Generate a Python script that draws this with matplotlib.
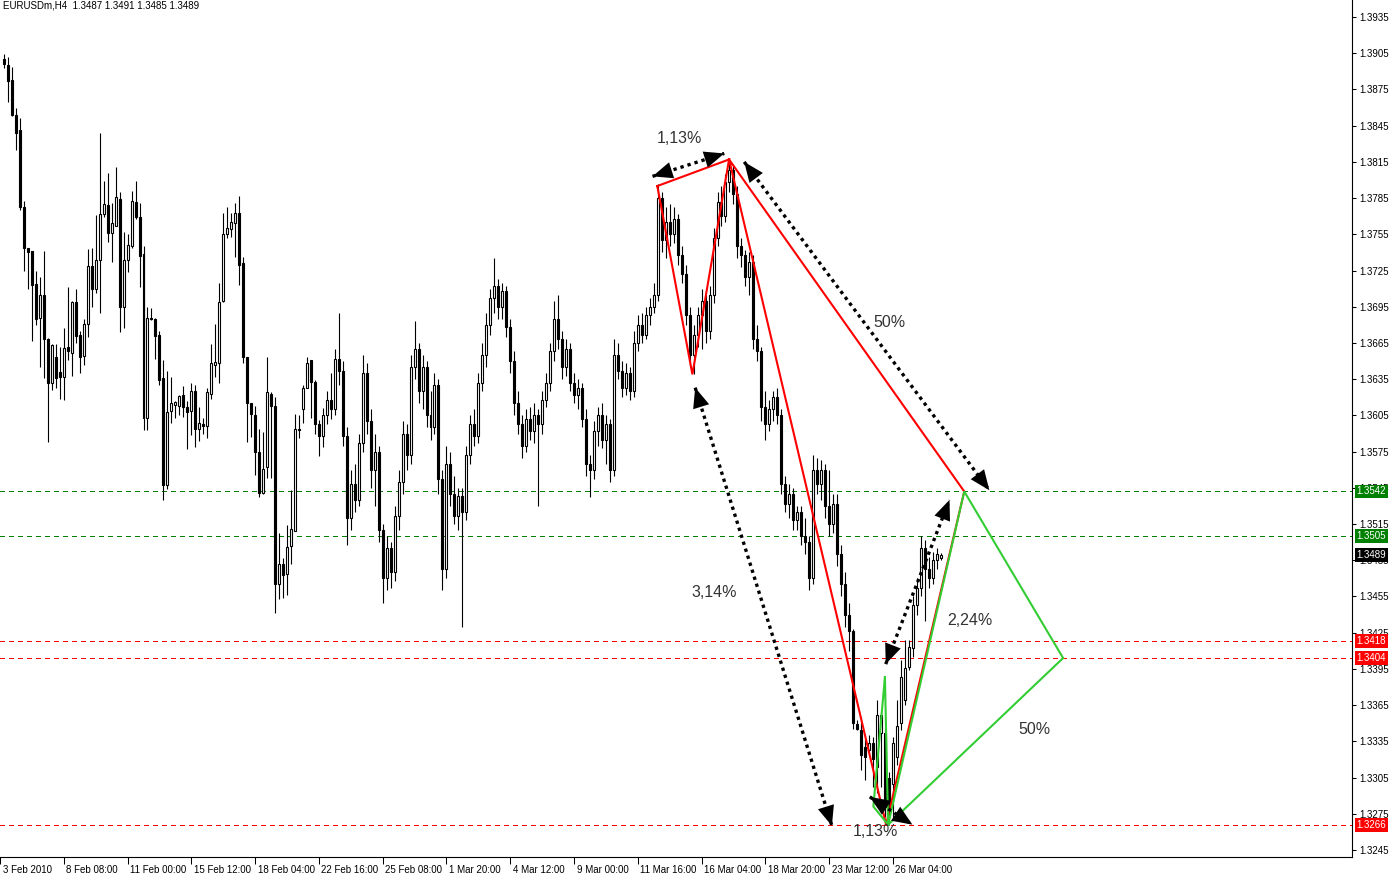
import matplotlib
matplotlib.use("Agg")
import matplotlib.pyplot as plt
import matplotlib.transforms as mtransforms
import numpy as np

plt.rcParams["font.family"] = ["Liberation Sans", "DejaVu Sans"]

# H4 candles, bar index 0..235
opens = [
    1.3900, 1.3895, 1.3883, 1.3854, 1.3841, 1.3778, 1.3744, 1.3741, 1.3714, 1.3686,
    1.3705, 1.3668, 1.3632, 1.3653, 1.3641, 1.3637, 1.3662, 1.3657, 1.3699, 1.3672,
    1.3654, 1.3681, 1.3729, 1.3710, 1.3734, 1.3772, 1.3779, 1.3756, 1.3762, 1.3784,
    1.3695, 1.3734, 1.3745, 1.3782, 1.3769, 1.3739, 1.3603, 1.3686, 1.3685, 1.3672,
    1.3636, 1.3547, 1.3609, 1.3614, 1.3613, 1.3622, 1.3612, 1.3609, 1.3625, 1.3594,
    1.3598, 1.3596, 1.3623, 1.3647, 1.3648, 1.3700, 1.3755, 1.3759, 1.3764, 1.3773,
    1.3731, 1.3653, 1.3615, 1.3605, 1.3575, 1.3541, 1.3562, 1.3623, 1.3613, 1.3465,
    1.3482, 1.3474, 1.3497, 1.3509, 1.3594, 1.3610, 1.3628, 1.3651, 1.3633, 1.3598,
    1.3588, 1.3605, 1.3618, 1.3610, 1.3652, 1.3642, 1.3588, 1.3520, 1.3548, 1.3535,
    1.3582, 1.3640, 1.3600, 1.3560, 1.3575, 1.3510, 1.3470, 1.3495, 1.3475, 1.3522,
    1.3550, 1.3590, 1.3572, 1.3645, 1.3660, 1.3625, 1.3645, 1.3605, 1.3595, 1.3630,
    1.3552, 1.3478, 1.3565, 1.3540, 1.3522, 1.3538, 1.3525, 1.3572, 1.3598, 1.3588,
    1.3632, 1.3655, 1.3680, 1.3702, 1.3712, 1.3695, 1.3708, 1.3678, 1.3650, 1.3615,
    1.3598, 1.3580, 1.3602, 1.3592, 1.3605, 1.3598, 1.3618, 1.3632, 1.3658, 1.3685,
    1.3668, 1.3645, 1.3660, 1.3632, 1.3622, 1.3628, 1.3602, 1.3565, 1.3560, 1.3592,
    1.3605, 1.3585, 1.3598, 1.3560, 1.3655, 1.3642, 1.3628, 1.3640, 1.3625, 1.3665,
    1.3680, 1.3672, 1.3688, 1.3695, 1.3705, 1.3785, 1.3750, 1.3765, 1.3755, 1.3768,
    1.3738, 1.3722, 1.3688, 1.3655, 1.3672, 1.3688, 1.3700, 1.3675, 1.3705, 1.3752,
    1.3782, 1.3770, 1.3798, 1.3808, 1.3788, 1.3745, 1.3738, 1.3720, 1.3732, 1.3668,
    1.3658, 1.3612, 1.3598, 1.3610, 1.3620, 1.3605, 1.3548, 1.3532, 1.3540, 1.3518,
    1.3525, 1.3505, 1.3500, 1.3470, 1.3560, 1.3548, 1.3560, 1.3530, 1.3515, 1.3532,
    1.3490, 1.3465, 1.3440, 1.3426, 1.3349, 1.3344, 1.3330, 1.3328, 1.3334, 1.3314,
    1.3342, 1.3342, 1.3305, 1.3300, 1.3322, 1.3350, 1.3369, 1.3397, 1.3412, 1.3448,
    1.3462, 1.3495, 1.3478, 1.3470, 1.3485, 1.3487,
]
highs = [
    1.3904, 1.3902, 1.3894, 1.3860, 1.3851, 1.3783, 1.3744, 1.3741, 1.3725, 1.3720,
    1.3741, 1.3669, 1.3664, 1.3664, 1.3662, 1.3677, 1.3711, 1.3700, 1.3710, 1.3675,
    1.3685, 1.3743, 1.3744, 1.3771, 1.3839, 1.3799, 1.3806, 1.3781, 1.3811, 1.3790,
    1.3757, 1.3755, 1.3791, 1.3799, 1.3781, 1.3745, 1.3695, 1.3694, 1.3686, 1.3675,
    1.3651, 1.3642, 1.3637, 1.3617, 1.3622, 1.3629, 1.3617, 1.3632, 1.3630, 1.3612,
    1.3603, 1.3628, 1.3664, 1.3681, 1.3715, 1.3773, 1.3778, 1.3773, 1.3781, 1.3787,
    1.3736, 1.3653, 1.3615, 1.3613, 1.3594, 1.3591, 1.3653, 1.3624, 1.3620, 1.3508,
    1.3487, 1.3514, 1.3543, 1.3606, 1.3605, 1.3630, 1.3653, 1.3651, 1.3634, 1.3601,
    1.3611, 1.3625, 1.3640, 1.3660, 1.3690, 1.3650, 1.3595, 1.3560, 1.3565, 1.3590,
    1.3655, 1.3648, 1.3610, 1.3590, 1.3580, 1.3515, 1.3505, 1.3500, 1.3530, 1.3560,
    1.3600, 1.3598, 1.3655, 1.3683, 1.3665, 1.3655, 1.3650, 1.3625, 1.3640, 1.3635,
    1.3560, 1.3580, 1.3575, 1.3555, 1.3545, 1.3545, 1.3580, 1.3605, 1.3610, 1.3640,
    1.3665, 1.3690, 1.3710, 1.3735, 1.3718, 1.3715, 1.3712, 1.3685, 1.3658, 1.3625,
    1.3605, 1.3610, 1.3612, 1.3615, 1.3610, 1.3625, 1.3640, 1.3665, 1.3700, 1.3705,
    1.3675, 1.3668, 1.3665, 1.3640, 1.3635, 1.3632, 1.3610, 1.3572, 1.3600, 1.3612,
    1.3615, 1.3605, 1.3602, 1.3668, 1.3665, 1.3650, 1.3648, 1.3645, 1.3675, 1.3688,
    1.3690, 1.3695, 1.3702, 1.3715, 1.3797, 1.3790, 1.3778, 1.3780, 1.3778, 1.3772,
    1.3745, 1.3730, 1.3695, 1.3680, 1.3695, 1.3710, 1.3705, 1.3712, 1.3760, 1.3790,
    1.3795, 1.3805, 1.3817, 1.3812, 1.3795, 1.3752, 1.3742, 1.3740, 1.3738, 1.3680,
    1.3662, 1.3625, 1.3618, 1.3625, 1.3628, 1.3610, 1.3555, 1.3548, 1.3545, 1.3530,
    1.3530, 1.3520, 1.3505, 1.3572, 1.3570, 1.3568, 1.3565, 1.3560, 1.3540, 1.3540,
    1.3498, 1.3475, 1.3450, 1.3428, 1.3353, 1.3355, 1.3339, 1.3340, 1.3339, 1.3369,
    1.3359, 1.3346, 1.3310, 1.3339, 1.3369, 1.3402, 1.3419, 1.3419, 1.3455, 1.3470,
    1.3505, 1.3502, 1.3488, 1.3492, 1.3495, 1.3491,
]
lows = [
    1.3893, 1.3865, 1.3853, 1.3825, 1.3775, 1.3725, 1.3710, 1.3667, 1.3680, 1.3645,
    1.3636, 1.3583, 1.3626, 1.3628, 1.3619, 1.3618, 1.3651, 1.3638, 1.3665, 1.3640,
    1.3647, 1.3670, 1.3695, 1.3706, 1.3690, 1.3769, 1.3749, 1.3732, 1.3762, 1.3674,
    1.3677, 1.3724, 1.3744, 1.3768, 1.3711, 1.3593, 1.3593, 1.3684, 1.3652, 1.3630,
    1.3535, 1.3544, 1.3599, 1.3603, 1.3605, 1.3604, 1.3577, 1.3589, 1.3579, 1.3584,
    1.3590, 1.3586, 1.3619, 1.3637, 1.3632, 1.3699, 1.3752, 1.3753, 1.3736, 1.3713,
    1.3648, 1.3583, 1.3587, 1.3556, 1.3537, 1.3540, 1.3553, 1.3553, 1.3441, 1.3453,
    1.3454, 1.3456, 1.3482, 1.3509, 1.3586, 1.3599, 1.3628, 1.3603, 1.3590, 1.3571,
    1.3579, 1.3598, 1.3602, 1.3605, 1.3630, 1.3580, 1.3498, 1.3510, 1.3525, 1.3530,
    1.3575, 1.3590, 1.3545, 1.3530, 1.3500, 1.3450, 1.3460, 1.3462, 1.3468, 1.3510,
    1.3540, 1.3560, 1.3565, 1.3635, 1.3615, 1.3610, 1.3595, 1.3585, 1.3590, 1.3540,
    1.3460, 1.3470, 1.3530, 1.3515, 1.3510, 1.3430, 1.3518, 1.3565, 1.3580, 1.3582,
    1.3625, 1.3645, 1.3672, 1.3690, 1.3685, 1.3685, 1.3670, 1.3640, 1.3605, 1.3590,
    1.3570, 1.3575, 1.3585, 1.3582, 1.3530, 1.3590, 1.3612, 1.3625, 1.3650, 1.3660,
    1.3635, 1.3638, 1.3625, 1.3615, 1.3610, 1.3595, 1.3555, 1.3537, 1.3552, 1.3580,
    1.3578, 1.3565, 1.3550, 1.3555, 1.3635, 1.3620, 1.3622, 1.3618, 1.3620, 1.3658,
    1.3665, 1.3668, 1.3680, 1.3690, 1.3700, 1.3740, 1.3735, 1.3745, 1.3748, 1.3730,
    1.3715, 1.3680, 1.3645, 1.3639, 1.3662, 1.3660, 1.3665, 1.3668, 1.3698, 1.3745,
    1.3762, 1.3765, 1.3790, 1.3780, 1.3735, 1.3728, 1.3712, 1.3705, 1.3660, 1.3650,
    1.3600, 1.3585, 1.3592, 1.3600, 1.3598, 1.3540, 1.3525, 1.3520, 1.3510, 1.3510,
    1.3498, 1.3490, 1.3460, 1.3465, 1.3540, 1.3535, 1.3520, 1.3505, 1.3508, 1.3480,
    1.3455, 1.3430, 1.3410, 1.3345, 1.3344, 1.3311, 1.3303, 1.3325, 1.3297, 1.3292,
    1.3297, 1.3272, 1.3266, 1.3270, 1.3315, 1.3344, 1.3365, 1.3394, 1.3405, 1.3440,
    1.3455, 1.3435, 1.3462, 1.3465, 1.3478, 1.3485,
]
closes = [
    1.3896, 1.3882, 1.3854, 1.3839, 1.3778, 1.3744, 1.3740, 1.3713, 1.3685, 1.3705,
    1.3668, 1.3632, 1.3663, 1.3636, 1.3637, 1.3661, 1.3658, 1.3699, 1.3671, 1.3653,
    1.3681, 1.3729, 1.3710, 1.3734, 1.3772, 1.3780, 1.3756, 1.3764, 1.3786, 1.3695,
    1.3734, 1.3746, 1.3783, 1.3769, 1.3737, 1.3603, 1.3686, 1.3685, 1.3671, 1.3634,
    1.3547, 1.3608, 1.3615, 1.3616, 1.3621, 1.3612, 1.3608, 1.3625, 1.3594, 1.3599,
    1.3596, 1.3624, 1.3648, 1.3649, 1.3699, 1.3755, 1.3760, 1.3765, 1.3773, 1.3730,
    1.3653, 1.3615, 1.3606, 1.3575, 1.3541, 1.3561, 1.3624, 1.3613, 1.3465, 1.3482,
    1.3473, 1.3496, 1.3511, 1.3594, 1.3593, 1.3628, 1.3648, 1.3633, 1.3598, 1.3588,
    1.3605, 1.3618, 1.3610, 1.3652, 1.3642, 1.3588, 1.3520, 1.3548, 1.3535, 1.3582,
    1.3640, 1.3600, 1.3560, 1.3575, 1.3510, 1.3470, 1.3495, 1.3475, 1.3522, 1.3550,
    1.3590, 1.3572, 1.3645, 1.3660, 1.3625, 1.3645, 1.3605, 1.3595, 1.3630, 1.3552,
    1.3478, 1.3565, 1.3540, 1.3522, 1.3538, 1.3525, 1.3572, 1.3598, 1.3588, 1.3632,
    1.3655, 1.3680, 1.3702, 1.3712, 1.3695, 1.3708, 1.3678, 1.3650, 1.3615, 1.3598,
    1.3580, 1.3602, 1.3592, 1.3605, 1.3598, 1.3618, 1.3632, 1.3658, 1.3685, 1.3668,
    1.3645, 1.3660, 1.3632, 1.3622, 1.3628, 1.3602, 1.3565, 1.3560, 1.3592, 1.3605,
    1.3585, 1.3598, 1.3560, 1.3655, 1.3642, 1.3628, 1.3640, 1.3625, 1.3665, 1.3680,
    1.3672, 1.3688, 1.3695, 1.3705, 1.3785, 1.3750, 1.3765, 1.3755, 1.3768, 1.3738,
    1.3722, 1.3688, 1.3655, 1.3672, 1.3688, 1.3700, 1.3675, 1.3705, 1.3752, 1.3782,
    1.3770, 1.3798, 1.3808, 1.3788, 1.3745, 1.3738, 1.3720, 1.3732, 1.3668, 1.3658,
    1.3612, 1.3598, 1.3610, 1.3620, 1.3605, 1.3548, 1.3532, 1.3540, 1.3518, 1.3525,
    1.3505, 1.3500, 1.3470, 1.3560, 1.3548, 1.3560, 1.3530, 1.3515, 1.3532, 1.3490,
    1.3465, 1.3440, 1.3426, 1.3350, 1.3345, 1.3324, 1.3322, 1.3334, 1.3320, 1.3357,
    1.3357, 1.3281, 1.3281, 1.3334, 1.3348, 1.3388, 1.3396, 1.3413, 1.3448, 1.3462,
    1.3495, 1.3478, 1.3470, 1.3485, 1.3490, 1.3489,
]

title = "EURUSDm,H4  1.3487 1.3491 1.3485 1.3489"
date_ticks = [-1, 15, 31, 47, 63, 79, 95, 111, 127, 143, 159, 175, 191, 207, 223]
date_labels = ["3 Feb 2010", "8 Feb 08:00", "11 Feb 00:00", "15 Feb 12:00", "18 Feb 04:00",
               "22 Feb 16:00", "25 Feb 08:00", "1 Mar 20:00", "4 Mar 12:00", "9 Mar 00:00",
               "11 Mar 16:00", "16 Mar 04:00", "18 Mar 20:00", "23 Mar 12:00", "26 Mar 04:00"]
price_ticks = [1.3245, 1.3275, 1.3305, 1.3335, 1.3365, 1.3395, 1.3425, 1.3455, 1.3485,
               1.3515, 1.3545, 1.3575, 1.3605, 1.3635, 1.3665, 1.3695, 1.3725, 1.3755,
               1.3785, 1.3815, 1.3845, 1.3875, 1.3905, 1.3935]

green_levels = [1.3542, 1.3505]
red_levels = [1.3418, 1.3404, 1.3266]
last_price = 1.3489

# hand-drawn pattern pivots (bar index, price)
red_shapes = [
    ([163.9, 172.7, 181.9, 163.9], [1.3795, 1.3639, 1.3817, 1.3795]),
    ([181.9, 240.9, 221.3, 181.9], [1.3817, 1.3542, 1.3266, 1.3817]),
]
green_shapes = [
    ([221.8, 240.9, 265.7, 221.8], [1.3266, 1.3542, 1.3404, 1.3266]),
    ([221.0, 218.1, 221.8, 221.0], [1.3388, 1.3281, 1.3266, 1.3388]),
]
arrows = [
    (162.7, 1.3803, 180.7, 1.3822),
    (185.7, 1.3815, 247.2, 1.3543),
    (173.4, 1.3628, 207.7, 1.3265),
    (221.2, 1.3399, 237.2, 1.3535),
    (217.2, 1.3289, 227.9, 1.3266),
]
notes = [
    (169.4, 1.3834, "1,13%"),
    (222.2, 1.3682, "50%"),
    (178.2, 1.3458, "3,14%"),
    (242.2, 1.3435, "2,24%"),
    (258.4, 1.3345, "50%"),
    (218.7, 1.3260, "1,13%"),
]

W, H = 1393, 876
fig = plt.figure(figsize=(W / 100, H / 100), dpi=100)
ax = fig.add_axes([0, 19 / H, 1352 / W, 857 / H])

o = np.array(opens)
h = np.array(highs)
l = np.array(lows)
c = np.array(closes)
x = np.arange(len(o))
up = c >= o

ax.vlines(x, l, h, color="black", linewidth=0.8, zorder=2)
body_lo = np.minimum(o, c)
body_h = np.abs(c - o)
ax.bar(x[up], body_h[up], bottom=body_lo[up], width=0.5, facecolor="white",
       edgecolor="black", linewidth=0.8, zorder=3)
ax.bar(x[~up], body_h[~up], bottom=body_lo[~up], width=0.5, facecolor="black",
       edgecolor="black", linewidth=0.8, zorder=3)

for lv in green_levels:
    ax.axhline(lv, color="#008000", linewidth=1.0, dashes=(3, 3), zorder=1,
               antialiased=False)
for lv in red_levels:
    ax.axhline(lv, color="#ff0000", linewidth=1.0, dashes=(3, 3), zorder=1,
               antialiased=False)

for xs, ys in red_shapes:
    ax.plot(xs, ys, color="#ff0000", linewidth=1.5, zorder=4, solid_joinstyle="miter")
for xs, ys in green_shapes:
    ax.plot(xs, ys, color="#32cd32", linewidth=1.5, zorder=4, solid_joinstyle="miter")

for x1, y1, x2, y2 in arrows:
    ax.plot([x1, x2], [y1, y2], color="black", linewidth=2.4, dashes=(1, 1.2), zorder=5)
    ax.annotate("", xy=(x2, y2), xytext=(x1, y1),
                arrowprops=dict(arrowstyle="<|-|>,head_length=0.6,head_width=0.25",
                                color="black", lw=0, mutation_scale=24,
                                shrinkA=0, shrinkB=0), zorder=6)

for nx, ny, txt in notes:
    ax.text(nx, ny, txt, fontsize=11.5, color="#333333", ha="center", va="center", zorder=7)

ax.set_xlim(0.175, 0.175 + 1352 / 4)
ax.set_ylim(1.32392, 1.39491)

for side in ["left", "top"]:
    ax.spines[side].set_visible(False)
for side in ["right", "bottom"]:
    ax.spines[side].set_linewidth(0.8)

ax.yaxis.tick_right()
ax.set_yticks(price_ticks)
ax.set_yticklabels([f"{p:.4f}" for p in price_ticks])
ax.tick_params(axis="y", direction="out", length=3, width=0.75, pad=2.5, labelsize=7)

ax.set_xticks(date_ticks)
ax.set_xticklabels(date_labels)
ax.tick_params(axis="x", direction="out", length=5, width=0.75, pad=0.5, labelsize=7)
shift = mtransforms.ScaledTranslation(2.5 / 100, 0, fig.dpi_scale_trans)
for lab in ax.get_xticklabels():
    lab.set_horizontalalignment("left")
    lab.set_transform(lab.get_transform() + shift)

# price tags on the right scale
tag_tr = mtransforms.blended_transform_factory(ax.transAxes, ax.transData)
tags = [(lv, "#008000") for lv in green_levels] + [(last_price, "black")] + \
       [(lv, "#ff0000") for lv in red_levels]
for lv, col in tags:
    ax.text(1.0035, lv, f"{lv:.4f}", transform=tag_tr, color="white", fontsize=7,
            ha="left", va="center", clip_on=False, zorder=10,
            bbox=dict(boxstyle="square,pad=0.2", facecolor=col, edgecolor="none"))

fig.text(3 / W, 1 - 6 / H, title, fontsize=7, ha="left", va="center")

fig.savefig("out.png", dpi=100)
